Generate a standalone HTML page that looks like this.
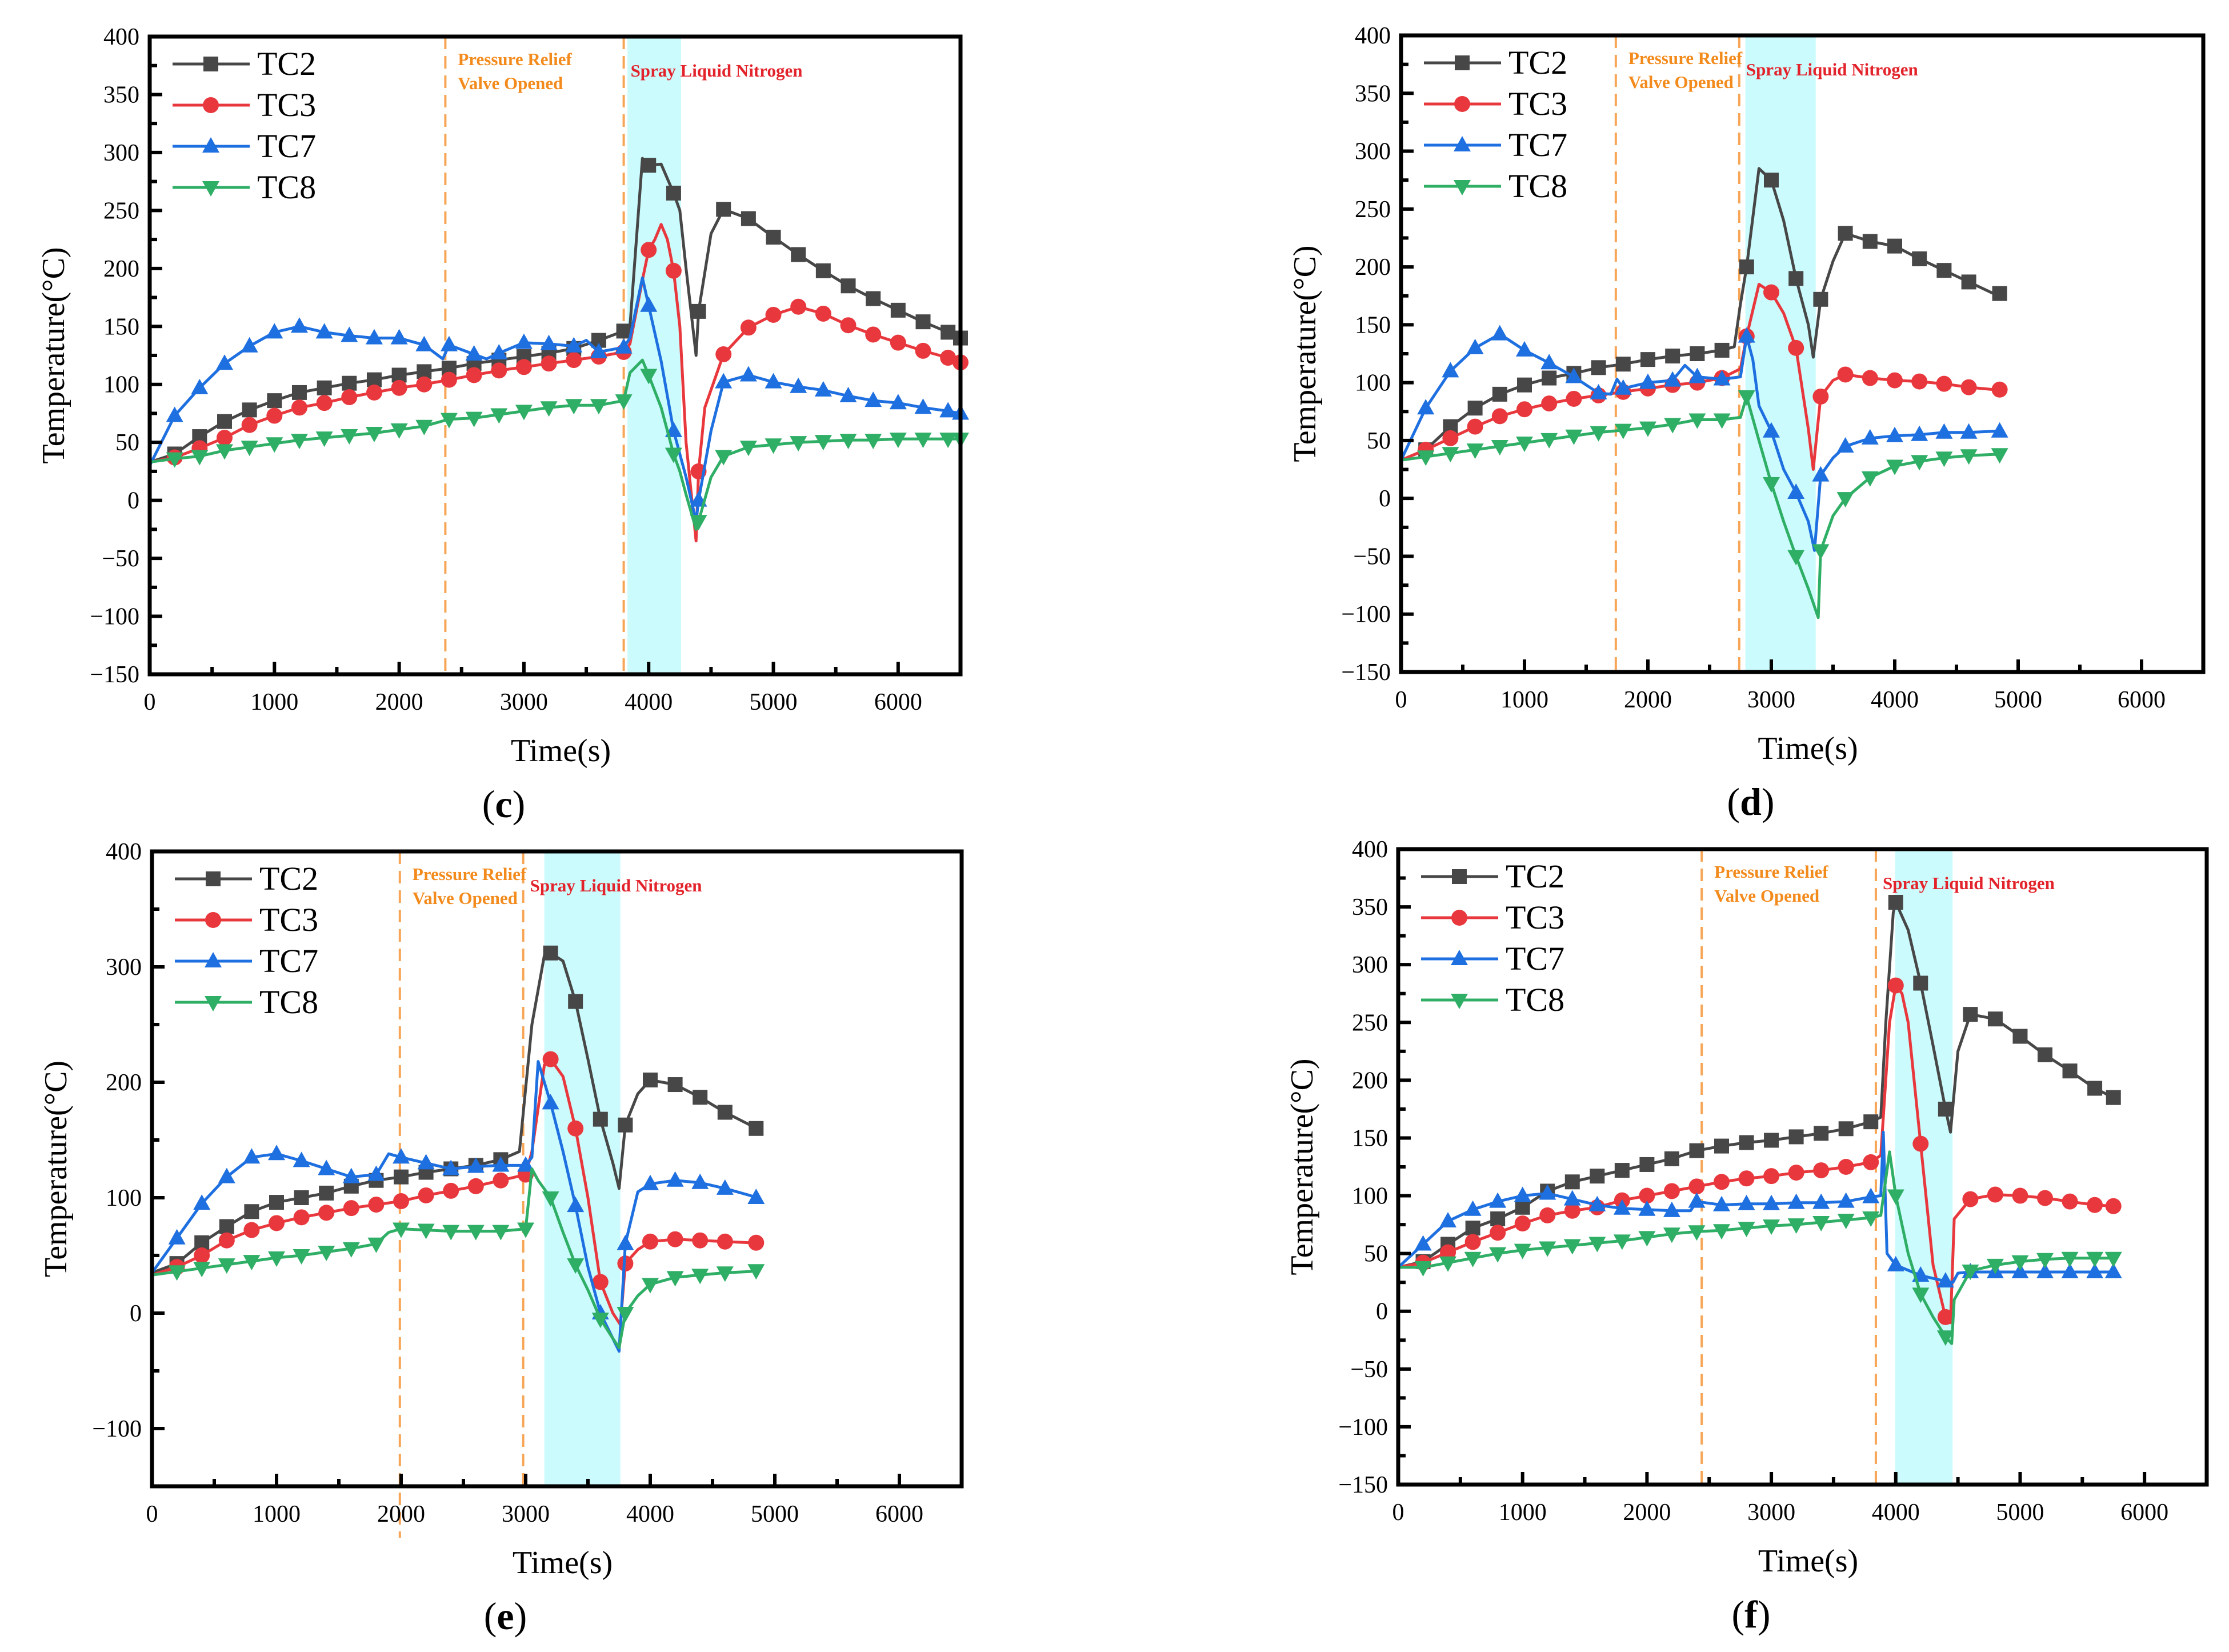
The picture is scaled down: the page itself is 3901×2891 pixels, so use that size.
<!DOCTYPE html>
<html><head><meta charset="utf-8"><style>
html,body{margin:0;padding:0;background:#fff}
svg{display:block}
</style></head><body>
<svg id="s" width="3901" height="2891" viewBox="0 0 3901 2891" xmlns="http://www.w3.org/2000/svg" font-family="'Liberation Serif', 'DejaVu Serif', serif"></svg>
<script>
// ---- Panel (c) data ----
const cTC2t=[0,200,400,600,800,1000,1200,1400,1600,1800,2000,2200,2400,2600,2800,3000,3200,3400,3600,3800,3850,3950,4000,4100,4200,4250,4300,4380,4400,4500,4600,4800,5000,5200,5400,5600,5800,6000,6200,6400,6500];
const cTC2v=[33,40,55,68,78,86,93,97,101,104,108,111,114,118,121,124,127,131,138,146,150,295,289,290,265,250,200,125,163,230,251,243,227,212,198,185,174,164,154,145,140];
const cTC3t=[0,200,400,600,800,1000,1200,1400,1600,1800,2000,2200,2400,2600,2800,3000,3200,3400,3600,3800,3850,3950,4000,4050,4100,4150,4200,4250,4300,4380,4400,4450,4600,4800,5000,5200,5400,5600,5800,6000,6200,6400,6500];
const cTC3v=[33,37,45,54,65,73,80,84,89,93,97,100,104,108,112,115,118,121,124,128,135,190,216,225,238,225,198,150,50,-35,25,80,126,149,160,167,161,151,143,136,129,123,119];
const cTC7t=[0,200,400,600,800,1000,1200,1400,1600,1800,2000,2200,2350,2400,2600,2700,2800,3000,3200,3400,3500,3600,3800,3850,3950,4000,4100,4200,4300,4380,4400,4500,4600,4800,5000,5200,5400,5600,5800,6000,6200,6400,6500];
const cTC7v=[30,73,97,118,133,145,150,145,142,140,140,134,122,134,126,122,127,136,135,133,138,128,132,140,192,168,120,60,20,-18,0,60,102,108,102,98,95,90,86,84,80,77,75];
const cTC8t=[0,200,400,600,800,1000,1200,1400,1600,1800,2000,2200,2400,2600,2800,3000,3200,3400,3600,3800,3850,3950,4000,4100,4200,4250,4300,4380,4400,4500,4600,4800,5000,5200,5400,5600,5800,6000,6200,6400,6500];
const cTC8v=[33,36,38,43,46,49,52,54,56,58,61,64,70,71,74,77,80,82,82,86,110,121,108,80,40,25,5,-25,-18,20,38,46,48,50,51,52,52,53,53,53,53];
const cEvents=[2370,3800]; const cSpray=[3830,4260];
// ---- Panel (d) data ----
const dTC2t=[0,200,400,600,800,1000,1200,1400,1600,1800,2000,2200,2400,2600,2700,2750,2800,2900,3000,3100,3200,3300,3340,3400,3500,3600,3800,4000,4200,4400,4600,4800,4850];
const dTC2v=[33,42,62,78,90,98,104,108,113,116,120,123,125,128,131,168,200,285,275,240,190,150,122,172,205,229,222,218,207,197,187,177,177];
const dTC3t=[0,200,400,600,800,1000,1200,1400,1600,1800,2000,2200,2400,2600,2750,2800,2900,3000,3100,3200,3300,3340,3400,3500,3600,3800,4000,4200,4400,4600,4800,4850];
const dTC3v=[33,42,52,62,71,77,82,86,89,92,95,98,100,104,112,140,185,178,160,130,60,25,88,102,107,104,102,101,99,96,94,94];
const dTC7t=[0,200,400,600,800,1000,1200,1400,1600,1700,1750,1800,2000,2200,2300,2400,2600,2750,2800,2850,2900,3000,3100,3200,3300,3350,3400,3500,3600,3800,4000,4200,4400,4600,4800,4850];
const dTC7v=[33,78,110,130,142,128,117,105,91,90,103,95,100,102,115,105,103,105,140,120,80,58,25,5,-20,-45,20,35,45,52,54,55,57,57,58,58];
const dTC8t=[0,200,400,600,800,1000,1200,1400,1600,1800,2000,2200,2400,2600,2750,2800,2900,3000,3100,3200,3300,3380,3400,3500,3600,3800,4000,4200,4400,4600,4800,4850];
const dTC8v=[33,36,39,42,45,48,51,54,57,59,61,64,68,68,70,88,50,13,-20,-50,-78,-103,-45,-15,0,18,28,32,35,37,38,38];
const dEvents=[1740,2740]; const dSpray=[2790,3360];
// ---- Panel (e) data ----
const eTC2t=[0,200,400,600,800,1000,1200,1400,1600,1800,2000,2200,2400,2600,2800,2950,3050,3150,3200,3300,3400,3500,3600,3700,3750,3800,3900,4000,4200,4400,4600,4800,4850];
const eTC2v=[35,43,61,75,88,96,100,104,110,115,118,122,125,128,133,140,250,310,312,305,270,220,168,130,108,163,190,202,198,187,174,163,160];
const eTC3t=[0,200,400,600,800,1000,1200,1400,1600,1800,2000,2200,2400,2600,2800,3000,3050,3150,3200,3300,3400,3500,3600,3700,3760,3800,3900,4000,4200,4400,4600,4800,4850];
const eTC3v=[33,40,50,63,72,78,83,87,91,94,97,102,106,110,115,120,140,215,220,205,160,100,27,0,-10,43,55,62,64,63,62,61,61];
const eTC7t=[0,200,400,600,800,1000,1200,1400,1600,1800,1900,2000,2200,2400,2600,2800,3000,3050,3100,3200,3300,3400,3500,3600,3700,3750,3800,3900,4000,4200,4400,4600,4800,4850];
const eTC7v=[35,65,95,118,135,138,132,125,118,120,138,135,130,125,127,128,128,135,218,182,140,93,40,0,-22,-33,60,105,112,115,113,108,102,100];
const eTC8t=[0,200,400,600,800,1000,1200,1400,1600,1700,1800,1900,2000,2200,2400,2600,2800,3000,3050,3100,3200,3300,3400,3500,3600,3700,3750,3800,3900,4000,4200,4400,4600,4800,4850];
const eTC8v=[33,36,39,42,45,48,50,53,56,58,60,70,73,72,71,71,71,73,125,115,100,70,42,20,-5,-22,-30,0,15,25,31,33,35,36,37];
const eEvents=[1990,2980]; const eSpray=[3150,3760];
// ---- Panel (f) data ----
const fTC2t=[0,200,400,600,800,1000,1200,1400,1600,1800,2000,2200,2400,2600,2800,3000,3200,3400,3600,3800,3880,3920,3980,4000,4100,4200,4300,4400,4440,4500,4600,4800,5000,5200,5400,5600,5750];
const fTC2v=[38,43,58,72,80,90,104,112,117,122,127,132,139,143,146,148,151,154,158,164,168,250,345,354,330,284,230,175,155,225,257,253,238,222,208,193,185];
const fTC3t=[0,200,400,600,800,1000,1200,1400,1600,1800,2000,2200,2400,2600,2800,3000,3200,3400,3600,3800,3880,3950,4000,4050,4100,4200,4300,4400,4440,4470,4600,4800,5000,5200,5400,5600,5750];
const fTC3v=[38,42,51,60,68,76,83,87,90,96,100,104,108,112,115,117,120,122,125,129,135,250,282,275,250,145,40,-5,-10,80,97,101,100,98,95,92,91];
const fTC7t=[0,200,400,600,800,1000,1200,1400,1600,1800,2000,2200,2350,2400,2600,2800,3000,3200,3400,3600,3800,3880,3900,3930,4000,4200,4400,4460,4500,4600,4800,5000,5200,5400,5600,5750];
const fTC7v=[38,58,78,88,95,100,102,97,92,89,88,87,87,95,92,93,93,94,94,95,99,100,155,50,40,31,26,25,33,34,34,34,34,34,34,34];
const fTC8t=[0,200,400,600,800,1000,1200,1400,1600,1800,2000,2200,2400,2600,2800,3000,3200,3400,3600,3800,3880,3950,4000,4100,4200,4300,4400,4450,4470,4600,4800,5000,5200,5400,5600,5750];
const fTC8v=[38,38,42,46,50,53,55,57,59,61,64,67,69,70,72,74,75,77,79,81,83,138,100,50,15,-5,-22,-28,10,35,40,43,45,46,46,46];
const fEvents=[2440,3840]; const fSpray=[3995,4457];
const xTicks=[0,1000,2000,3000,4000,5000,6000];
const yTicksFull=[-150,-100,-50,0,50,100,150,200,250,300,350,400];
const yTicksE=[-100,0,100,200,300,400];
const seriesNames=["TC2","TC3","TC7","TC8"];

const NS="http://www.w3.org/2000/svg";
const svg=document.getElementById('s');
const FONT="'Liberation Serif', 'DejaVu Serif', serif";
const COLORS={TC2:"#474747",TC3:"#e8383d",TC7:"#1e6fe0",TC8:"#2fae66"};
function mk(tag,attrs,parent){const e=document.createElementNS(NS,tag);for(const k in attrs)e.setAttribute(k,attrs[k]);if(tag==='text')e.setAttribute('font-family',FONT);(parent||svg).appendChild(e);return e;}

const panels=[
 {id:"c",L:262,R:1681,T:64,B:1180,yt:yTicksFull,data:[[cTC2t,cTC2v],[cTC3t,cTC3v],[cTC7t,cTC7v],[cTC8t,cTC8v]],ev:cEvents,sp:cSpray},
 {id:"d",L:2452,R:3856,T:62,B:1176,yt:yTicksFull,data:[[dTC2t,dTC2v],[dTC3t,dTC3v],[dTC7t,dTC7v],[dTC8t,dTC8v]],ev:dEvents,sp:dSpray},
 {id:"e",L:266,R:1683,T:1490,B:2601,yt:yTicksE,data:[[eTC2t,eTC2v],[eTC3t,eTC3v],[eTC7t,eTC7v],[eTC8t,eTC8v]],ev:eEvents,sp:eSpray},
 {id:"f",L:2447,R:3862,T:1486,B:2598,yt:yTicksFull,data:[[fTC2t,fTC2v],[fTC3t,fTC3v],[fTC7t,fTC7v],[fTC8t,fTC8v]],ev:fEvents,sp:fSpray}
];

function marker(g,name,x,y){
  const c=COLORS[name];let m;
  if(name==="TC2"){m=mk('rect',{x:x-13,y:y-13,width:26,height:26,fill:c},g);}
  else if(name==="TC3"){m=mk('circle',{cx:x,cy:y,r:14,fill:c},g);}
  else if(name==="TC7"){m=mk('polygon',{points:`${x},${y-16} ${x-15},${y+11} ${x+15},${y+11}`,fill:c},g);}
  else {m=mk('polygon',{points:`${x},${y+16} ${x-15},${y-11} ${x+15},${y-11}`,fill:c},g);}
  
  
}

panels.forEach(p=>{
  const g=mk('g',{});
  
  
  const xs=t=>p.L+(t/6500)*(p.R-p.L);
  const ys=v=>p.B-((v+150)/550)*(p.B-p.T);
  const band=mk('rect',{x:xs(p.sp[0]),y:p.T,width:xs(p.sp[1])-xs(p.sp[0]),height:p.B-p.T,fill:"#ccfbfd"},g);
  
  
  p.ev.forEach((t,i)=>{
    const l=mk('line',{x1:xs(t),x2:xs(t),y1:p.T,y2:p.B+(p.id==="e"&&i===0?90:0),stroke:"#f7a657","stroke-width":4,"stroke-dasharray":"22,12"},g);
    
    
  });
  const a1=mk('text',{x:xs(p.ev[0])+22,y:p.T+50,fill:"#f38a1c","font-size":31,"font-weight":"bold"},g);a1.textContent="Pressure Relief";
  
  const a2=mk('text',{x:xs(p.ev[0])+22,y:p.T+92,fill:"#f38a1c","font-size":31,"font-weight":"bold"},g);a2.textContent="Valve Opened";
  
  const a3=mk('text',{x:xs(p.ev[1])+12,y:p.T+70,fill:"#e3232b","font-size":31,"font-weight":"bold"},g);a3.textContent="Spray Liquid Nitrogen";
  
  p.data.forEach((d,si)=>{
    const name=seriesNames[si];
    const pts=d[0].map((t,i)=>xs(t).toFixed(1)+","+ys(d[1][i]).toFixed(1)).join(" ");
    const pl=mk('polyline',{points:pts,fill:"none",stroke:COLORS[name],"stroke-width":5,"stroke-linejoin":"round"},g);
    
    
    const last=d[0].length-1;
    d[0].forEach((t,i)=>{ if((t%200===0 && t>0 && !(i===last-1 && d[0][last]-t<100)) || i===last) marker(g,name,xs(t),ys(d[1][i])); });
  });
  const fr=mk('rect',{x:p.L,y:p.T,width:p.R-p.L,height:p.B-p.T,fill:"none",stroke:"#000","stroke-width":7},g);
  
  for(let t=0;t<=6500;t+=500){
    const major=t%1000===0;
    mk('line',{x1:xs(t),x2:xs(t),y1:p.B,y2:p.B-(major?22:13),stroke:"#000","stroke-width":6},g);
  }
  xTicks.forEach(t=>{const tx=mk('text',{x:xs(t),y:p.B+62,"font-size":42,"text-anchor":"middle"},g);tx.textContent=t;
    });
  const step=p.yt[1]-p.yt[0];
  for(let v=-150;v<=400;v+=step/2){
    const major=p.yt.includes(v);
    mk('line',{x1:p.L,x2:p.L+(major?22:13),y1:ys(v),y2:ys(v),stroke:"#000","stroke-width":6},g);
  }
  p.yt.forEach(v=>{const tx=mk('text',{x:p.L-18,y:ys(v)+14,"font-size":42,"text-anchor":"end"},g);tx.textContent=(v<0?"\u2212"+(-v):v);
    });
  const xt=mk('text',{x:(p.L+p.R)/2+10,y:p.B+152,"font-size":56,"text-anchor":"middle"},g);xt.textContent="Time(s)";
  
  const yx=p.L-150, yy=(p.T+p.B)/2;
  const yt=mk('text',{x:yx,y:yy,"font-size":56,"text-anchor":"middle",transform:`rotate(-90 ${yx} ${yy})`},g);yt.textContent="Temperature(°C)";
  
  const cap=mk('text',{x:(p.L+p.R)/2-90,y:p.B+250,"font-size":68,"text-anchor":"middle"},g);
  cap.appendChild(document.createTextNode("("));
  const b=mk('tspan',{"font-weight":"bold"},cap);b.textContent=p.id;
  cap.appendChild(document.createTextNode(")"));
  
  seriesNames.forEach((n,i)=>{
    const ly=p.T+48+i*72;
    const lg=mk('g',{},g);
    
    
    mk('line',{x1:p.L+40,x2:p.L+175,y1:ly,y2:ly,stroke:COLORS[n],"stroke-width":5},lg);
    marker(lg,n,p.L+107,ly);
    const t=mk('text',{x:p.L+188,y:ly+19,"font-size":58},lg);t.textContent=n;
  });
});
</script>
</body></html>
